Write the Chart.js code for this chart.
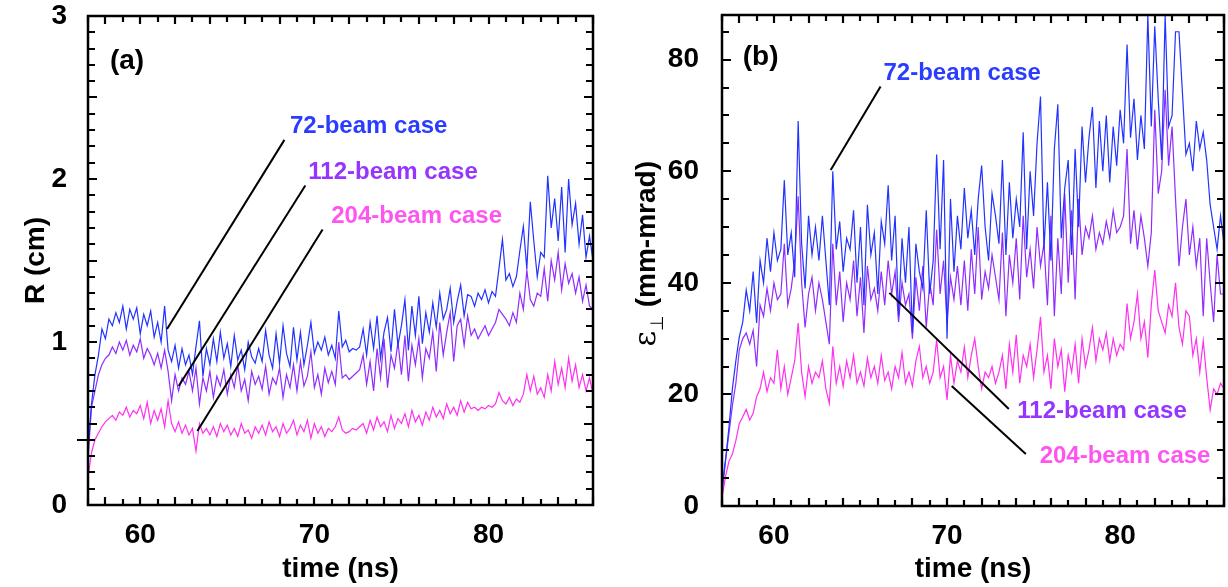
<!DOCTYPE html>
<html>
<head>
<meta charset="utf-8">
<title>Beam radius and emittance</title>
<script src="https://cdn.jsdelivr.net/npm/chart.js@4.4.1/dist/chart.umd.min.js"></script>
<style>
  body { margin: 0; background: #fff; }
  #wrap { position: relative; width: 1228px; height: 587px; }
  canvas { position: absolute; top: 0; }
  #cA { left: 0; }
  #cB { left: 614px; }
</style>
</head>
<body>
<div id="wrap">
  <canvas id="cA" width="614" height="587"></canvas>
  <canvas id="cB" width="614" height="587"></canvas>
</div>
<script>
// samples every 0.2 ns from 57 ns to 86 ns
const tStart = 57;
const tStep = 0.2;

// (a) beam radius R (cm)
const radius72 = [
  0.34, 0.62, 0.80, 0.92, 1.08, 1.02, 1.14, 1.10, 1.18, 1.12,
  1.22, 1.08, 1.20, 1.14, 1.21, 1.05, 1.17, 1.10, 1.19, 1.03,
  1.12, 1.00, 1.22, 0.95, 0.88, 0.98, 0.84, 0.96, 0.86, 0.92,
  0.80, 0.97, 1.13, 0.79, 0.96, 0.86, 1.02, 0.88, 1.06, 0.90,
  0.99, 0.85, 1.04, 0.89, 0.95, 0.83, 1.00, 0.91, 0.87, 0.96,
  0.88, 1.07, 0.92, 0.84, 1.05, 0.87, 1.10, 0.93, 0.85, 1.09,
  0.89, 1.06, 0.86, 0.98, 1.12, 0.93, 1.00, 0.95, 1.03, 0.92,
  0.98, 0.90, 1.19, 0.97, 1.01, 0.94, 0.96, 0.95, 0.97, 1.08,
  0.92, 1.12, 0.96, 1.16, 0.90, 1.06, 1.15, 0.94, 1.20, 0.98,
  1.10, 1.26, 0.95, 1.22, 1.04, 1.28, 0.99, 1.18, 1.06, 1.24,
  1.09, 1.30, 1.14, 1.20, 1.33, 1.12, 1.25, 1.35, 1.16, 1.29,
  1.28, 1.22, 1.30, 1.26, 1.32, 1.24, 1.31, 1.28, 1.45, 1.63,
  1.38, 1.42, 1.34, 1.40, 1.56, 1.71, 1.45, 1.86, 1.62, 1.40,
  1.55, 1.52, 2.02, 1.70, 1.88, 1.62, 1.95, 1.55, 2.00, 1.72,
  1.85, 1.60, 1.78, 1.52, 1.65, 1.50
];
const radius112 = [
  0.28, 0.60, 0.70, 0.80, 0.86, 0.90, 0.92, 0.97, 0.93, 1.00,
  0.95, 1.01, 0.92, 0.98, 0.94, 1.02, 0.90, 0.96, 0.92, 0.86,
  0.93, 0.84, 0.95, 0.82, 0.64, 0.80, 0.70, 0.78, 0.74, 0.82,
  0.70, 0.84, 0.62, 0.78, 0.70, 0.82, 0.66, 0.79, 0.73, 0.83,
  0.68, 0.80, 0.72, 0.86, 0.70, 0.77, 0.64, 0.82, 0.74, 0.79,
  0.71, 0.85, 0.68, 0.78, 0.74, 0.84, 0.66, 0.80, 0.72, 0.86,
  0.70, 0.88, 0.73, 0.79, 0.94, 0.72, 0.80, 0.68, 0.84, 0.75,
  0.82, 0.74, 1.00, 0.78, 0.80, 0.77, 0.79, 0.81, 0.83, 0.92,
  0.74, 0.88, 0.70, 0.96, 0.78, 1.02, 0.72, 0.92, 0.84, 1.00,
  0.80, 1.04, 0.76, 0.98, 0.86, 1.02, 0.78, 0.96, 0.90, 1.06,
  0.82, 1.12, 0.92, 1.06, 1.18, 0.88, 1.10, 1.14, 0.98, 1.16,
  1.04, 1.08, 1.02, 1.06, 1.10, 1.04, 1.08, 1.12, 1.20, 1.17,
  1.14, 1.10, 1.18, 1.12, 1.30, 1.20, 1.44, 1.26, 1.22, 1.30,
  1.28, 1.45, 1.25, 1.50, 1.38, 1.55, 1.32, 1.48, 1.36, 1.42,
  1.30, 1.40, 1.25, 1.35, 1.22, 1.20
];
const radius204 = [
  0.17, 0.32, 0.40, 0.44, 0.48, 0.51, 0.53, 0.55, 0.52, 0.57,
  0.55, 0.60, 0.54, 0.58, 0.56, 0.61, 0.53, 0.63, 0.50, 0.58,
  0.52, 0.59, 0.48, 0.64, 0.50, 0.45, 0.51, 0.44, 0.49, 0.43,
  0.47, 0.33, 0.50, 0.44, 0.47, 0.43, 0.48, 0.42, 0.50, 0.45,
  0.49, 0.43, 0.47, 0.42, 0.50, 0.44, 0.46, 0.41, 0.48, 0.44,
  0.49, 0.43, 0.51, 0.45, 0.48, 0.42, 0.50, 0.44, 0.47, 0.52,
  0.43, 0.49, 0.45, 0.52, 0.41, 0.50, 0.44, 0.48, 0.42, 0.47,
  0.45, 0.48, 0.54, 0.46, 0.44, 0.45, 0.47, 0.46, 0.48, 0.50,
  0.44, 0.52, 0.46, 0.54, 0.48, 0.51, 0.45, 0.55, 0.47, 0.53,
  0.50, 0.56, 0.48, 0.58, 0.51, 0.55, 0.49, 0.57, 0.52, 0.60,
  0.54, 0.58, 0.53, 0.62, 0.56, 0.60, 0.55, 0.64, 0.57, 0.63,
  0.59, 0.60, 0.58, 0.60, 0.59, 0.61, 0.60, 0.62, 0.69, 0.64,
  0.62, 0.66, 0.61, 0.65, 0.63, 0.68, 0.80, 0.70, 0.79, 0.68,
  0.72, 0.66, 0.80, 0.70, 0.88, 0.74, 0.84, 0.72, 0.90, 0.76,
  0.86, 0.72, 0.80, 0.70, 0.78, 0.68
];

// (b) transverse emittance (mm-mrad)
const emit72 = [
  3.4, 8.2, 14, 21, 26, 30.3, 33, 38.7, 35, 42,
  32.8, 44, 40, 48, 42, 49, 44, 46, 58.4, 45,
  49, 41, 69, 47, 39, 52, 45, 50, 44, 52,
  44, 36, 60, 46, 51, 42, 48, 46, 53, 40,
  50, 36, 54, 45, 49, 38, 51, 47, 57.5, 44,
  52, 34, 48, 40, 50, 31, 47, 42, 39, 53,
  38, 44, 63, 46, 62, 30, 55, 42, 52, 46,
  57, 48, 53, 45, 55, 61, 50, 44, 56, 52,
  47, 62, 45, 58, 48, 55, 50, 67, 46, 60,
  52, 65, 73.4, 46, 58, 44, 64, 72, 48, 57,
  62, 45, 64, 50, 68, 58, 66, 71.5, 57, 69,
  60, 70, 58, 68, 61, 71, 65, 82.7, 66, 73,
  62, 70, 64, 88, 68, 86, 73, 62, 88, 68,
  70, 85, 85, 74, 63, 65, 60, 69, 64, 67,
  62, 54, 50, 46, 52, 47
];
const emit112 = [
  2, 8, 13, 18, 22, 28, 30, 31, 29, 31.5,
  25, 36, 34, 39, 35, 40, 37, 38, 47, 36,
  39, 44, 55.5, 40, 32, 38, 41, 35, 40, 37,
  33, 29, 47, 36, 42, 33, 40, 37, 44, 34,
  41, 31, 43, 37, 39, 35, 42, 36, 44, 38,
  42, 33, 40, 36, 38, 30, 41, 35, 43, 32,
  40, 36, 49.5, 38, 44, 33, 41, 37, 43, 36,
  44, 35, 46, 38, 50, 37, 42, 39, 45, 41,
  37, 49, 34, 45, 40, 48, 37, 52, 41, 46,
  39, 50, 43, 47, 36, 52, 34, 48, 38, 56,
  40, 53, 37, 55, 45, 50, 48, 52, 46, 49,
  47, 51, 48, 53, 49, 50, 52, 64, 47, 53,
  46, 52, 48, 43, 49, 71, 56, 60, 74.6, 61,
  68, 55, 43, 50, 55, 45, 50, 43, 48, 34,
  48, 40, 33, 45, 38, 38
];
const emit204 = [
  1.5, 5.2, 8, 9.3, 11.7, 14.8, 16, 17.3, 15.4, 16.6,
  19.6, 21, 24, 20.5, 23, 22, 28, 21, 25, 20,
  23, 26, 32.8, 24, 19.6, 25, 22, 24, 23, 26,
  21, 18.4, 28.6, 22, 25, 21.5, 26, 23, 27, 22,
  24, 21.5, 26.5, 23, 25, 22, 27, 22.5, 24, 21,
  25, 23, 27.5, 22, 24, 21.5, 26, 28.6, 23, 25,
  22, 24, 29.8, 23, 25, 19, 27, 22, 26, 24,
  28.5, 23, 27, 30, 25, 21, 24, 23, 25, 22,
  24, 27, 21, 29, 24, 30.7, 22, 27, 25, 29,
  23, 28, 33.9, 24, 27, 21, 30, 25, 28, 20.5,
  27, 24, 29, 22, 30, 25, 28, 32, 26, 30,
  28, 31, 26, 30, 27, 29, 28, 36.3, 30, 33,
  38, 30, 33, 26.6, 36, 42.3, 35, 33, 31, 36,
  34, 40, 32, 29, 35, 34, 27, 30, 24, 29.6,
  23, 17.2, 21, 20, 22, 21
];

const caseNames = ["72-beam case", "112-beam case", "204-beam case"];
const lineColors = ["#2233ff", "#8f2cff", "#ff30f0"];
const textColors = ["#2a3cff", "#9535ff", "#ff55f0"];

const FONT = "'Liberation Sans', Arial, Helvetica, sans-serif";
const bold = size => ({ family: FONT, size: size, weight: "bold" });

function toPoints(vals) {
  return vals.map((v, i) => ({ x: tStart + i * tStep, y: v }));
}

// frame round the plot with inward ticks on all four sides
const axisFrame = {
  id: "axisFrame",
  afterDraw(chart, args, o) {
    const { ctx, chartArea: a } = chart;
    const x = chart.scales.x, y = chart.scales.y;
    ctx.save();
    ctx.strokeStyle = "#000";
    ctx.lineWidth = 2.2;
    ctx.lineCap = "butt";
    ctx.beginPath();
    for (let v = 57; v <= 86; v++) {
      const px = Math.round(x.getPixelForValue(v));
      const len = v % 2 === 0 ? 8 : 6;
      ctx.moveTo(px, a.bottom); ctx.lineTo(px, a.bottom - len);
      ctx.moveTo(px, a.top); ctx.lineTo(px, a.top + len);
    }
    const n = Math.floor((y.max - y.min) / o.yMinor + 1e-6);
    for (let i = 1; i <= n; i++) {
      const py = Math.round(y.getPixelForValue(y.min + i * o.yMinor));
      const len = i % o.yMajorEvery === 0 ? 9 : 7;
      ctx.moveTo(a.left, py); ctx.lineTo(a.left + len, py);
      ctx.moveTo(a.right, py); ctx.lineTo(a.right - len, py);
    }
    if (o.outerTick != null) {
      const py = Math.round(y.getPixelForValue(o.outerTick));
      ctx.moveTo(a.left - 11, py); ctx.lineTo(a.left + 6, py);
    }
    ctx.stroke();
    ctx.lineWidth = 2.5;
    ctx.strokeRect(a.left, a.top, a.right - a.left, a.bottom - a.top);
    ctx.restore();
  }
};

// case labels with their pointer lines, placed in data units
const curveNotes = {
  id: "curveNotes",
  afterDatasetsDraw(chart, args, o) {
    const { ctx } = chart;
    const x = chart.scales.x, y = chart.scales.y;
    ctx.save();
    ctx.strokeStyle = "#000";
    ctx.lineWidth = 2;
    o.pointers.forEach(p => {
      ctx.beginPath();
      ctx.moveTo(x.getPixelForValue(p[0]), y.getPixelForValue(p[1]));
      ctx.lineTo(x.getPixelForValue(p[2]), y.getPixelForValue(p[3]));
      ctx.stroke();
    });
    ctx.textAlign = "left";
    ctx.textBaseline = "middle";
    o.labels.forEach(l => {
      ctx.font = "bold " + l.size + "px " + FONT;
      ctx.fillStyle = l.color;
      ctx.fillText(l.text, x.getPixelForValue(l.t), y.getPixelForValue(l.v));
    });
    ctx.restore();
  }
};

// epsilon with a perpendicular subscript, written up the left side
const emitTitle = {
  id: "emitTitle",
  afterDraw(chart, args, o) {
    const { ctx, chartArea: a } = chart;
    ctx.save();
    ctx.translate(o.x, (a.top + a.bottom) / 2 - 9);
    ctx.rotate(-Math.PI / 2);
    ctx.fillStyle = "#000";
    ctx.textBaseline = "alphabetic";
    ctx.textAlign = "left";
    let cx = -95;
    ctx.font = "30px 'DejaVu Serif', 'Liberation Serif', serif";
    ctx.fillText("\u03b5", cx, 10);
    cx += ctx.measureText("\u03b5").width;
    ctx.font = "18px 'DejaVu Sans', sans-serif";
    ctx.fillText("\u22a5", cx, 18);
    cx += ctx.measureText("\u22a5").width + 8;
    ctx.font = "bold 28px " + FONT;
    ctx.fillText("(mm-mrad)", cx, 10);
    ctx.restore();
  }
};

function makePanel(id, series, opt) {
  const datasets = series.map((vals, k) => ({
    label: caseNames[k],
    data: toPoints(vals),
    borderColor: lineColors[k],
    borderWidth: 1.2,
    pointRadius: 0,
    tension: 0,
    fill: false
  }));
  return new Chart(document.getElementById(id), {
    type: "line",
    data: { datasets: datasets },
    plugins: opt.extra ? [axisFrame, curveNotes, opt.extra] : [axisFrame, curveNotes],
    options: {
      responsive: false,
      animation: false,
      devicePixelRatio: 1,
      layout: { padding: opt.padding },
      scales: {
        x: {
          type: "linear",
          min: 57, max: 86,
          grid: { display: false },
          border: { display: false },
          afterFit: s => {
            s.height = opt.xHeight;
            s.paddingLeft = 0;
            s.paddingRight = 0;
          },
          ticks: {
            stepSize: 10, autoSkip: false, maxRotation: 0, padding: 5,
            color: "#000", font: bold(28),
            callback: v => (v % 10 === 0 ? v : "")
          },
          title: {
            display: true, text: "time (ns)", color: "#000", font: bold(28),
            padding: { top: 0, bottom: 1 }
          }
        },
        y: {
          type: "linear",
          min: 0, max: opt.yMax,
          grid: { display: false },
          border: { display: false },
          afterFit: s => {
            s.width = opt.yWidth;
            s.paddingTop = 0;
            s.paddingBottom = 0;
          },
          ticks: {
            stepSize: opt.yStep, autoSkip: false, padding: opt.yPad,
            color: "#000", font: bold(28),
            callback: v => (v % opt.yStep === 0 ? v : "")
          },
          title: opt.yTitle
        }
      },
      plugins: {
        legend: { display: false },
        tooltip: { enabled: false },
        axisFrame: opt.frame,
        curveNotes: opt.notes,
        emitTitle: opt.emitTitle || {}
      }
    }
  });
}

makePanel("cA", [radius72, radius112, radius204], {
  padding: { left: 0, right: 21, top: 16, bottom: 0 },
  xHeight: 82, yWidth: 88, yMax: 3, yStep: 1, yPad: 13,
  yTitle: {
    display: true, text: "R (cm)", color: "#000", font: bold(28),
    padding: { top: 19, bottom: 0 }
  },
  frame: { yMinor: 0.1, yMajorEvery: 5, outerTick: 0.4 },
  notes: {
    pointers: [
      [61.54, 1.08, 68.28, 2.24],
      [62.21, 0.73, 69.48, 1.96],
      [63.28, 0.454, 70.47, 1.69]
    ],
    labels: [
      { text: "(a)", t: 58.26, v: 2.72, size: 28, color: "#000" },
      { text: caseNames[0], t: 68.6, v: 2.32, size: 24, color: textColors[0] },
      { text: caseNames[1], t: 69.65, v: 2.04, size: 24, color: textColors[1] },
      { text: caseNames[2], t: 70.97, v: 1.77, size: 24, color: textColors[2] }
    ]
  }
});

makePanel("cB", [emit72, emit112, emit204], {
  padding: { left: 0, right: 4, top: 15, bottom: 0 },
  xHeight: 81, yWidth: 108, yMax: 88, yStep: 20, yPad: 15,
  yTitle: { display: false },
  frame: { yMinor: 5, yMajorEvery: 4, outerTick: null },
  extra: emitTitle,
  emitTitle: { x: 31 },
  notes: {
    pointers: [
      [63.28, 60.2, 66.16, 75.2],
      [66.67, 38.2, 73.57, 17.4],
      [70.27, 21.5, 74.55, 9.3]
    ],
    labels: [
      { text: "(b)", t: 58.2, v: 80.4, size: 28, color: "#000" },
      { text: caseNames[0], t: 66.33, v: 77.5, size: 24, color: textColors[0] },
      { text: caseNames[1], t: 74.06, v: 17.0, size: 24, color: textColors[1] },
      { text: caseNames[2], t: 75.35, v: 8.9, size: 24, color: textColors[2] }
    ]
  }
});
</script>
</body>
</html>
